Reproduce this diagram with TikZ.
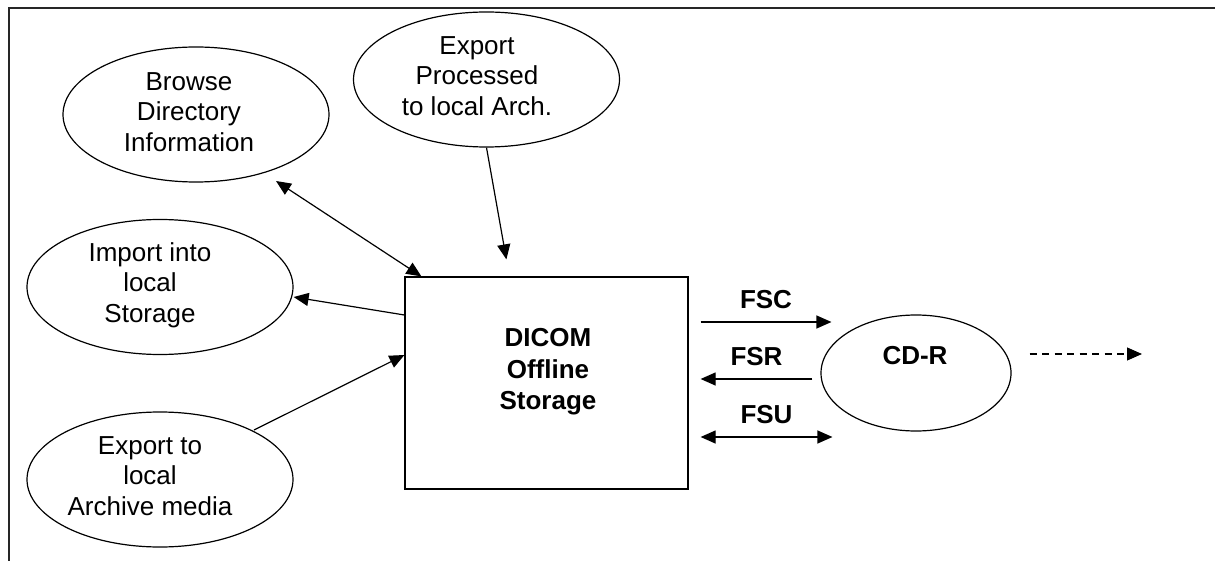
\documentclass[tikz,border=0pt]{standalone}
\usepackage{fontspec}
\setmainfont{Liberation Sans}
\usetikzlibrary{arrows.meta,shapes.geometric}
\tikzset{
  ell/.style={draw, ellipse, line width=1.2pt, inner sep=0pt, minimum width=266pt, minimum height=135pt},
  etext/.style={align=center, font=\fontsize{26}{30.5}\selectfont},
  btext/.style={align=center, font=\fontsize{26}{31.5}\selectfont\bfseries},
  conn/.style={line width=1.2pt, -{Triangle[length=15pt,width=13pt]}},
  dconn/.style={line width=1.2pt, {Triangle[length=15pt,width=13pt]}-{Triangle[length=15pt,width=13pt]}},
  frame/.style={line width=1.6pt, draw=black!85}
}
\begin{document}
\begin{tikzpicture}[x=1pt,y=-1pt]
\useasboundingbox (0,0) rectangle (1215,561);
% frame
\coordinate (fa) at (1215,8);
\coordinate (fb) at (9,8);
\coordinate (fc) at (9,561);
\draw[frame] (fa) -- (fb) -- (fc);
% nodes
\node[ell] (browse) at (196,114.5) {};
\node[etext] (browset) at (189,112) {Browse\\Directory\\Information};
\node[ell] (proc) at (486.5,79.5) {};
\node[etext] (proct) at (477,76) {Export\\Processed\\to local Arch.};
\node[ell] (import) at (160,287) {};
\node[etext] (importt) at (150,285) {Import into\\local\\Storage};
\node[ell] (exloc) at (160,479.5) {};
\node[etext] (exloct) at (150,476) {Export to\\local\\Archive media};
\node[draw, line width=1.2pt, minimum width=283pt, minimum height=212pt, inner sep=0pt] (box) at (546.5,383) {};
\node[btext] (boxt) at (548,372) {DICOM\\Offline\\Storage};
\node[ell, minimum width=190pt, minimum height=116pt] (cdr) at (916,373) {};
\node[btext] (cdrt) at (915,356) {CD-R};
% connectors
\draw[dconn] ([shift={(80,66.5)}]browse.center) -- ([shift={(17,0)}]box.north west);
\draw[conn] (proc.south) -- ([shift={(102,-17)}]box.north west);
\draw[conn] ([shift={(0,-68)}]box.west) -- ([shift={(0,10)}]import.east);
\draw[conn] ([shift={(94,-49.5)}]exloc.center) -- ([shift={(0,-28)}]box.west);
\draw[conn] ([shift={(12,-61)}]box.east) -- node[btext, above=9pt] (fsc) {FSC} ([shift={(11,-51)}]cdr.west);
\draw[conn] ([shift={(-8,6)}]cdr.west) -- node[btext, above=9pt] (fsr) {FSR} ([shift={(12,-4)}]box.east);
\draw[dconn] ([shift={(12,54)}]box.east) -- node[btext, above=9pt] (fsu) {FSU} ([shift={(12,64)}]cdr.west);
\coordinate (out) at (1142,354);
\draw[conn, dash pattern=on 7pt off 5.5pt] ([shift={(18,-19)}]cdr.east) -- (out);
\end{tikzpicture}
\end{document}
